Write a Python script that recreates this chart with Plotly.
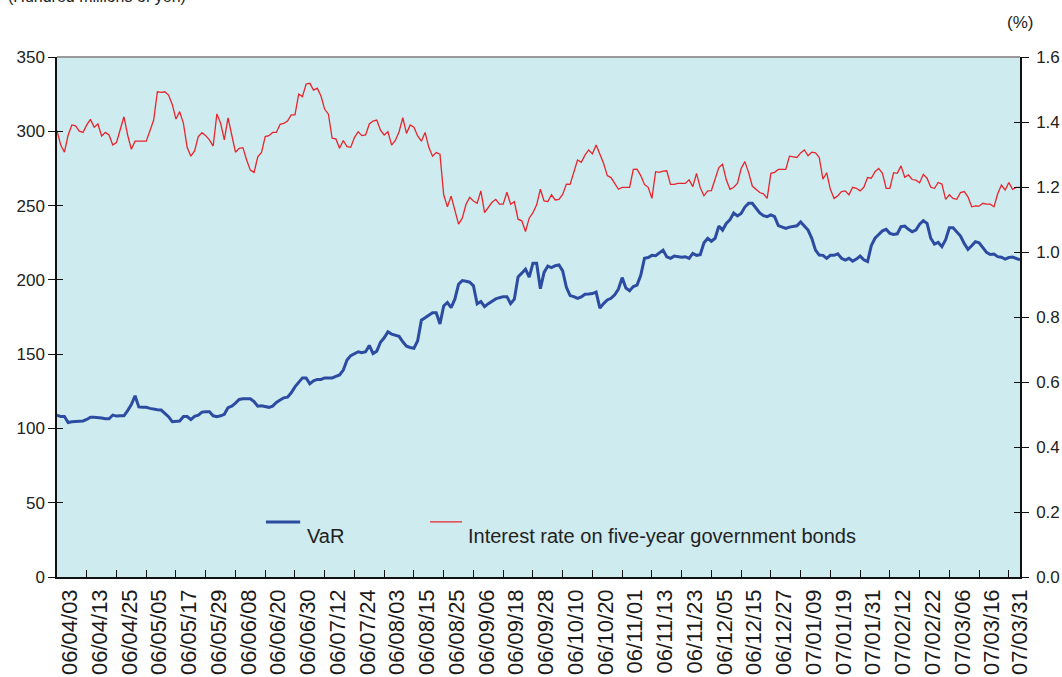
import plotly.graph_objects as go

labels = ["06/04/03", "06/04/13", "06/04/25", "06/05/05", "06/05/17", "06/05/29",
          "06/06/08", "06/06/20", "06/06/30", "06/07/12", "06/07/24", "06/08/03",
          "06/08/15", "06/08/25", "06/09/06", "06/09/18", "06/09/28", "06/10/10",
          "06/10/20", "06/11/01", "06/11/13", "06/11/23", "06/12/05", "06/12/15",
          "06/12/27", "07/01/09", "07/01/19", "07/01/31", "07/02/12", "07/02/22",
          "07/03/06", "07/03/16", "07/03/31"]

var_values = [
    109, 108, 108, 104, 104.5, 104.5, 104.5, 105, 106, 107.5,
    107.5, 107.4, 107, 106.5, 106.5, 109, 108.3, 108.5, 108.5, 112,
    116, 122, 114.5, 114.3, 114.2, 113.5, 112.8, 112.6, 112.4, 110,
    107.9, 104.5, 105, 105, 108, 108, 106, 108.2, 109, 111,
    111.2, 111.2, 108.5, 107.9, 108.5, 109.5, 114, 115, 117, 119.5,
    120, 120.2, 120, 118, 115, 115.3, 114.5, 114.2, 115, 117.5,
    119.1, 120.6, 121, 124, 128, 131, 134, 134, 130, 132,
    133, 133, 134, 134, 134, 135, 136, 139.3, 146, 149,
    150.5, 151.6, 151, 151.6, 155.9, 150.4, 152, 158, 161, 165,
    163.5, 163, 162, 158.3, 155.4, 154.5, 153.9, 159, 172.9, 174.5,
    176, 177.9, 177.9, 170.3, 182.4, 184.8, 181.3, 187, 197, 199.5,
    199, 198.4, 196, 183.8, 185.4, 182, 184, 185.8, 187.2, 188,
    188.7, 188.7, 184, 187, 202, 204.5, 207.2, 201.8, 211.2, 211.2,
    194, 205, 209.3, 208.2, 209.5, 210, 206, 195, 189.4, 188.7,
    187.5, 188.5, 190.3, 190.5, 190.8, 191.8, 181, 184, 186.5, 187.6,
    190, 193.8, 201.5, 194.5, 192.7, 195.5, 196.5, 203, 214.5, 215,
    216.5, 216.3, 218, 220, 215.5, 214.5, 216, 215.8, 215.2, 215.6,
    214.5, 217.8, 216.5, 217, 225, 227.9, 226, 228, 236.2, 233.5,
    238, 240.5, 245, 243, 244.7, 249, 251.5, 251.5, 248.5, 245,
    243.2, 242.5, 243.7, 242.5, 236.5, 235.3, 234.6, 235.5, 236.2, 236.4,
    239, 236, 233.5, 228, 220, 216.7, 216.5, 214.5, 216.5, 216.5,
    217.5, 214.5, 213.3, 214.5, 212.6, 214, 216, 213.5, 212.3, 223,
    228, 230.5, 233, 234, 231.3, 230.6, 231, 235.8, 236.2, 234,
    232.4, 233.5, 237.5, 239.8, 238, 228, 224.1, 225.2, 222.3, 227,
    235, 235, 232.4, 229.5, 224.5, 220.5, 223, 225.7, 225, 221.9,
    218.5, 217.1, 217.4, 215.6, 215.2, 214, 215, 215.4, 214.5, 213.5,
]

rate_values = [
    1.373, 1.329, 1.307, 1.360, 1.391, 1.388, 1.372, 1.368, 1.391, 1.408,
    1.384, 1.394, 1.357, 1.368, 1.360, 1.329, 1.337, 1.375, 1.416, 1.360,
    1.316, 1.341, 1.341, 1.341, 1.341, 1.373, 1.406, 1.493, 1.491, 1.493,
    1.483, 1.454, 1.409, 1.432, 1.396, 1.322, 1.295, 1.311, 1.355, 1.367,
    1.358, 1.345, 1.326, 1.425, 1.396, 1.345, 1.413, 1.360, 1.307, 1.319,
    1.321, 1.283, 1.252, 1.245, 1.293, 1.306, 1.355, 1.358, 1.368, 1.368,
    1.393, 1.396, 1.403, 1.422, 1.422, 1.486, 1.478, 1.517, 1.519, 1.498,
    1.504, 1.480, 1.439, 1.424, 1.350, 1.348, 1.319, 1.343, 1.324, 1.322,
    1.352, 1.370, 1.358, 1.360, 1.394, 1.403, 1.406, 1.375, 1.360, 1.370,
    1.329, 1.343, 1.370, 1.413, 1.365, 1.391, 1.384, 1.357, 1.341, 1.368,
    1.322, 1.295, 1.306, 1.301, 1.176, 1.139, 1.172, 1.129, 1.086, 1.104,
    1.147, 1.168, 1.157, 1.150, 1.188, 1.121, 1.137, 1.153, 1.162, 1.147,
    1.147, 1.184, 1.147, 1.155, 1.101, 1.096, 1.063, 1.104, 1.121, 1.145,
    1.193, 1.157, 1.155, 1.176, 1.160, 1.162, 1.177, 1.209, 1.208, 1.242,
    1.283, 1.276, 1.298, 1.314, 1.302, 1.329, 1.298, 1.273, 1.235, 1.229,
    1.211, 1.193, 1.199, 1.199, 1.199, 1.254, 1.255, 1.235, 1.208, 1.199,
    1.165, 1.247, 1.245, 1.249, 1.250, 1.208, 1.208, 1.211, 1.211, 1.211,
    1.222, 1.201, 1.242, 1.198, 1.173, 1.188, 1.189, 1.222, 1.260, 1.270,
    1.222, 1.193, 1.199, 1.211, 1.257, 1.278, 1.245, 1.203, 1.194, 1.183,
    1.179, 1.165, 1.242, 1.245, 1.254, 1.254, 1.254, 1.295, 1.293, 1.291,
    1.305, 1.314, 1.296, 1.307, 1.305, 1.291, 1.224, 1.244, 1.193, 1.165,
    1.173, 1.186, 1.188, 1.176, 1.199, 1.196, 1.188, 1.199, 1.229, 1.227,
    1.247, 1.257, 1.242, 1.196, 1.196, 1.244, 1.242, 1.265, 1.230, 1.237,
    1.223, 1.221, 1.213, 1.239, 1.227, 1.199, 1.196, 1.214, 1.209, 1.162,
    1.176, 1.165, 1.162, 1.183, 1.186, 1.170, 1.139, 1.142, 1.141, 1.150,
    1.147, 1.147, 1.139, 1.179, 1.206, 1.191, 1.214, 1.193, 1.199, 1.199,
]

idx = list(range(len(var_values)))
n_last = len(var_values) - 1
tick_pos = list(range(0, n_last, 8))
label_pos = [p + 3.5 for p in tick_pos[:len(labels) - 1]] + [n_last]

BLUE = "#2c4ca2"
RED = "#e8252d"
BG = "#ceebef"
FONT = "Liberation Sans, Arial, sans-serif"
NARROW = "Liberation Sans Narrow, Arial Narrow, Liberation Sans, sans-serif"

fig = go.Figure()
fig.add_trace(go.Scatter(x=idx, y=var_values, mode="lines", name="VaR",
                         line=dict(color=BLUE, width=3), xaxis="x", yaxis="y"))
fig.add_trace(go.Scatter(x=idx, y=rate_values, mode="lines",
                         name="Interest rate on five-year government bonds",
                         line=dict(color=RED, width=1.3), xaxis="x", yaxis="y2"))
# helper traces so inner-tick axes and label axis exist
fig.add_trace(go.Scatter(x=[], y=[], xaxis="x2", yaxis="y", showlegend=False))
fig.add_trace(go.Scatter(x=[], y=[], xaxis="x", yaxis="y3", showlegend=False))
fig.add_trace(go.Scatter(x=[], y=[], xaxis="x", yaxis="y4", showlegend=False))

fig.update_layout(
    width=1062, height=677,
    margin=dict(l=57, r=42, t=57, b=100, autoexpand=False),
    paper_bgcolor="white", plot_bgcolor=BG,
    showlegend=False,
    font=dict(family=FONT, color="#222222", size=17),
    xaxis=dict(range=[0, n_last], showline=True, linecolor="#111111", linewidth=1.5,
               ticks="inside", ticklen=7, tickwidth=1.2, tickcolor="#111111",
               tickvals=tick_pos, showticklabels=False, showgrid=False, zeroline=False,
               automargin=False),
    xaxis2=dict(range=[0, n_last], overlaying="x", anchor="y", side="bottom",
                tickvals=label_pos, ticktext=labels, tickangle=-90, ticks="",
                showline=False, showgrid=False, zeroline=False, automargin=False,
                ticklabelstandoff=7,
                tickfont=dict(family=NARROW, size=22, color="#1a1a1a")),
    yaxis=dict(range=[0, 350], dtick=50, showline=True, linecolor="#111111", linewidth=1.5,
               ticks="outside", ticklen=7, tickwidth=1.2, tickcolor="#111111",
               showgrid=False, zeroline=False, automargin=False, tickfont=dict(size=17)),
    yaxis3=dict(range=[0, 350], dtick=50, overlaying="y", side="left", ticks="inside",
                ticklen=6, tickwidth=1.2, tickcolor="#111111", showticklabels=False,
                showline=False, showgrid=False, zeroline=False, automargin=False),
    yaxis2=dict(range=[0, 1.6], dtick=0.2, tickformat=".1f", overlaying="y", side="right",
                showline=True, linecolor="#111111", linewidth=1.5,
                ticks="outside", ticklen=7, tickwidth=1.2, tickcolor="#111111",
                ticklabelstandoff=4,
                showgrid=False, zeroline=False, automargin=False, tickfont=dict(size=17)),
    yaxis4=dict(range=[0, 1.6], dtick=0.2, overlaying="y", side="right", ticks="inside",
                ticklen=6, tickwidth=1.2, tickcolor="#111111", showticklabels=False,
                showline=False, showgrid=False, zeroline=False, automargin=False),
)

# top border of the plot area
fig.add_shape(type="line", xref="paper", yref="paper", x0=0, x1=1, y0=1, y1=1,
              line=dict(color="#9a9a9a", width=2))

# legend samples and labels
fig.add_shape(type="line", xref="paper", yref="paper", x0=0.217, x1=0.2525,
              y0=0.106, y1=0.106, line=dict(color=BLUE, width=3))
fig.add_shape(type="line", xref="paper", yref="paper", x0=0.3873, x1=0.4206,
              y0=0.106, y1=0.106, line=dict(color=RED, width=1.3))
fig.add_annotation(text="VaR", xref="paper", yref="paper", x=0.2575, y=0.078,
                   xanchor="left", yanchor="middle", showarrow=False,
                   font=dict(size=20, color="#222222"))
fig.add_annotation(text="Interest rate on five-year government bonds", xref="paper",
                   yref="paper", x=0.4247, y=0.078, xanchor="left", yanchor="middle",
                   showarrow=False, font=dict(size=20, color="#222222"))

# unit labels (the left one is partly cut off at the top edge, as in the original)
fig.add_annotation(text="(Hundred millions of yen)", xref="paper", yref="paper",
                   x=-0.053, y=1.1165, xanchor="left", yanchor="middle", showarrow=False,
                   font=dict(size=16, color="#222222"))
fig.add_annotation(text="(%)", xref="paper", yref="paper", x=1.0, y=1.0654,
                   xanchor="center", yanchor="middle", showarrow=False,
                   font=dict(size=17, color="#222222"))

fig.write_html("out.html", config={"displayModeBar": False},
               post_script="document.body.style.margin='0px';document.body.style.overflow='hidden';")
